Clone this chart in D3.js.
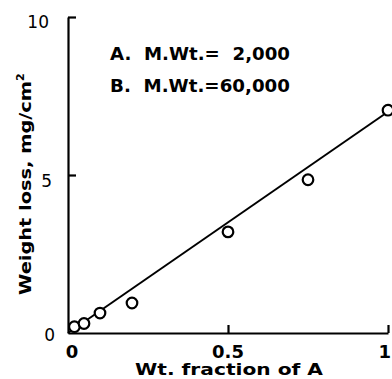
<!DOCTYPE html>
<html><head><meta charset="utf-8">
<script src="https://cdn.jsdelivr.net/npm/d3@7"></script>
<style>body{margin:0;background:#fff}svg{display:block}</style>
</head><body><div id="c"></div>
<script>
const xVals = [0.02, 0.05, 0.1, 0.2, 0.5, 0.75, 1.0];
const yVals = [0.2, 0.3, 0.63, 0.95, 3.2, 4.85, 7.05];
const fitLine = [[0, 0], [1, 7.0]];
const xTicks = [0, 0.5, 1];
const xTickLabels = ["0", "0.5", "1"];
const yTicks = [0, 5, 10];
const yTickLabels = ["0", "5", "10"];
const legendLines = ["A.  M.Wt.=  2,000", "B.  M.Wt.=60,000"];

const W = 392, H = 379;
const svg = d3.select("#c").append("svg").attr("width", W).attr("height", H);
const x = d3.scaleLinear().domain([0, 1]).range([68, 388]);
const y = d3.scaleLinear().domain([0, 10]).range([333, 17]);
const font = "'DejaVu Sans', sans-serif";

// axes
const xAxis = d3.axisBottom(x).tickValues(xTicks.slice(1)).tickSize(-8).tickFormat("").tickSizeOuter(0);
const gx = svg.append("g").attr("transform", `translate(0,${y(0)})`).call(xAxis);
const yAxis = d3.axisLeft(y).tickValues(yTicks.slice(1)).tickSize(-8).tickFormat("").tickSizeOuter(0);
const gy = svg.append("g").attr("transform", `translate(${x(0)},0)`).call(yAxis);
[gx, gy].forEach(g => {
  g.selectAll("path.domain").attr("stroke", "#000").attr("stroke-width", 2.2);
  g.selectAll(".tick line").attr("stroke", "#000").attr("stroke-width", 2.2);
});

// tick labels
const xOffs = [4, 0, 3];
const xAnch = ["middle", "middle", "end"];
svg.append("g").selectAll("text").data(xTicks).join("text")
  .attr("x", (d, i) => x(d) + xOffs[i]).attr("y", 358)
  .attr("text-anchor", (d, i) => xAnch[i]).attr("font-family", font).attr("font-size", 18)
  .attr("font-weight", "bold").text((d, i) => xTickLabels[i]);
const yOffs = [13, 16, 19];
const yDy = [8, 12, 11];
svg.append("g").selectAll("text").data(yTicks).join("text")
  .attr("x", (d, i) => x(0) - yOffs[i]).attr("y", (d, i) => y(d) + yDy[i])
  .attr("text-anchor", "end").attr("font-family", font).attr("font-size", 17)
  .text((d, i) => yTickLabels[i]);

// fit line
svg.append("path").datum(fitLine)
  .attr("d", d3.line().x(d => x(d[0])).y(d => y(d[1])))
  .attr("fill", "none").attr("stroke", "#000").attr("stroke-width", 2);

// points
svg.append("g").selectAll("circle").data(xVals).join("circle")
  .attr("cx", d => x(d)).attr("cy", (d, i) => y(yVals[i])).attr("r", 5.3)
  .attr("fill", "#fff").attr("stroke", "#000").attr("stroke-width", 2.2);

// legend
svg.append("g").selectAll("text").data(legendLines).join("text")
  .attr("x", 110).attr("y", (d, i) => 60 + i * 31.5)
  .attr("font-family", font).attr("font-size", 17).attr("font-weight", "bold")
  .attr("textLength", 180).attr("lengthAdjust", "spacingAndGlyphs")
  .attr("xml:space", "preserve").style("white-space", "pre")
  .text(d => d);

// axis titles
svg.append("text").attr("x", 135).attr("y", 375)
  .attr("font-family", font).attr("font-size", 16).attr("font-weight", "bold")
  .attr("textLength", 188).attr("lengthAdjust", "spacingAndGlyphs").text("Wt. fraction of A");
const yl = svg.append("text").attr("transform", "translate(31,295) rotate(-90)")
  .attr("font-family", font).attr("font-size", 16)
  .attr("font-weight", "bold");
yl.append("tspan").attr("textLength", 214).attr("lengthAdjust", "spacingAndGlyphs").text("Weight loss, mg/cm");
yl.append("tspan").attr("dy", -7).attr("font-size", 11).text("2");
</script></body></html>
